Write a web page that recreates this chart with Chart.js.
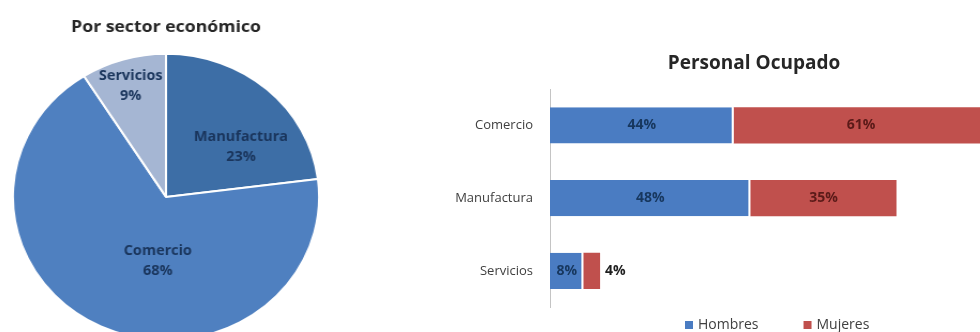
<!DOCTYPE html>
<html lang="es">
<head>
<meta charset="UTF-8">
<title>Sector económico y personal ocupado</title>
<script src="https://cdn.jsdelivr.net/npm/chart.js"></script>
<style>
  body { margin: 0; width: 980px; height: 332px; overflow: hidden; background: #fff; position: relative; }
  #pieBox { position: absolute; left: 0; top: 0; width: 332px; height: 341px; transform-origin: 166px 0; transform: scaleX(1.07); }
  #barChart { position: absolute; left: 420px; top: 0; }
</style>
</head>
<body>
<div id="pieBox"><canvas id="pieChart" width="332" height="341"></canvas></div>
<canvas id="barChart" width="560" height="332"></canvas>

<script>
  // pie: share by sector
  const sectores = ['Manufactura', 'Comercio', 'Servicios'];
  const participacion = [23, 68, 9];

  // bars: personal ocupado
  const categorias = ['Comercio', 'Manufactura', 'Servicios'];
  const hombres = [44, 48, 8];
  const mujeres = [61, 35, 4];

  const FONT = '"Open Sans", Lato, sans-serif';

  // labels inside the pie slices (t = fraction along the slice, r = fraction of radius)
  const pieLabels = {
    id: 'pieLabels',
    afterDatasetsDraw(chart, args, opts) {
      const ctx = chart.ctx;
      const ds = chart.data.datasets[0];
      chart.getDatasetMeta(0).data.forEach((arc, i) => {
        const p = opts.place[i];
        const a = arc.startAngle + (arc.endAngle - arc.startAngle) * p.t;
        const r = arc.outerRadius * p.r;
        const x = arc.x + Math.cos(a) * r;
        const y = arc.y + Math.sin(a) * r;
        ctx.save();
        ctx.font = 'bold 13.5px ' + FONT;
        ctx.fillStyle = '#1a355c';
        ctx.textAlign = 'center';
        ctx.textBaseline = 'middle';
        ctx.fillText(chart.data.labels[i], x, y - 10);
        ctx.fillText(ds.data[i] + '%', x, y + 10);
        ctx.restore();
      });
    }
  };

  new Chart(document.getElementById('pieChart'), {
    type: 'pie',
    data: {
      labels: sectores,
      datasets: [{
        data: participacion,
        backgroundColor: ['#3d6ea6', '#4f80c0', '#a5b6d3'],
        borderColor: '#ffffff',
        borderWidth: 2
      }]
    },
    options: {
      responsive: false,
      animation: false,
      layout: { padding: 0 },
      plugins: {
        legend: { display: false },
        tooltip: { enabled: false },
        title: {
          display: true,
          text: 'Por sector económico',
          color: '#262626',
          font: { family: FONT, size: 16.5, weight: 'bold' },
          padding: { top: 17, bottom: 16 }
        },
        pieLabels: {
          place: [{ t: 0.66, r: 0.6 }, { t: 0.425, r: 0.45 }, { t: 0.49, r: 0.81 }]
        }
      }
    },
    plugins: [pieLabels]
  });

  // value labels on the bars
  const barLabels = {
    id: 'barLabels',
    afterDatasetsDraw(chart, args, opts) {
      const ctx = chart.ctx;
      ctx.save();
      ctx.font = 'bold 14px ' + FONT;
      ctx.textBaseline = 'middle';
      chart.data.datasets.forEach((ds, di) => {
        chart.getDatasetMeta(di).data.forEach((bar, i) => {
          const txt = ds.data[i] + '%';
          const w = ctx.measureText(txt).width;
          const l = Math.min(bar.x, bar.base), r = Math.max(bar.x, bar.base);
          if (r - l > w + 8) {
            ctx.textAlign = 'center';
            ctx.fillStyle = opts.colors[di];
            ctx.fillText(txt, (l + r) / 2, bar.y);
          } else {
            ctx.textAlign = 'left';
            ctx.fillStyle = '#1e1e1e';
            ctx.fillText(txt, r + 5, bar.y);
          }
        });
      });
      ctx.restore();
    }
  };

  // title + legend for the bar chart
  const barDecor = {
    id: 'barDecor',
    afterDraw(chart, args, opts) {
      const ctx = chart.ctx;
      ctx.save();
      ctx.fillStyle = '#262626';
      ctx.font = 'bold 19px ' + FONT;
      ctx.textAlign = 'center';
      ctx.textBaseline = 'middle';
      ctx.fillText(opts.title, opts.titleX, opts.titleY);

      ctx.font = '14px ' + FONT;
      ctx.textAlign = 'left';
      let x = opts.legendX;
      chart.data.datasets.forEach(ds => {
        ctx.fillStyle = ds.backgroundColor;
        ctx.fillRect(x, opts.legendY - 4, 8, 8);
        ctx.fillStyle = '#404040';
        ctx.fillText(ds.label, x + 13, opts.legendY);
        x += 13 + ctx.measureText(ds.label).width + opts.legendGap;
      });
      ctx.restore();
    }
  };

  new Chart(document.getElementById('barChart'), {
    type: 'bar',
    data: {
      labels: categorias,
      datasets: [
        { label: 'Hombres', data: hombres, backgroundColor: '#4a7cc2',
          borderColor: '#ffffff', borderWidth: { right: 2 }, borderSkipped: false },
        { label: 'Mujeres', data: mujeres, backgroundColor: '#c0504d', borderWidth: 0 }
      ]
    },
    options: {
      indexAxis: 'y',
      responsive: false,
      animation: false,
      layout: { padding: { top: 89, bottom: 9, left: 0, right: 0 } },
      datasets: { bar: { barPercentage: 1, categoryPercentage: 0.5 } },
      scales: {
        x: { stacked: true, display: false, min: 0, max: 103 },
        y: {
          stacked: true,
          grid: { display: true, color: 'transparent', drawTicks: false },
          border: { display: true, color: '#c4c4c4', width: 1 },
          ticks: { padding: 17, color: '#404040', font: { family: FONT, size: 13 } },
          afterFit(scale) { scale.width = 130; }
        }
      },
      plugins: {
        legend: { display: false },
        tooltip: { enabled: false },
        barLabels: { colors: ['#17375e', '#5a1a18'] },
        barDecor: { title: 'Personal Ocupado', titleX: 334, titleY: 64, legendX: 265, legendY: 325, legendGap: 45 }
      }
    },
    plugins: [barLabels, barDecor]
  });
</script>
</body>
</html>
